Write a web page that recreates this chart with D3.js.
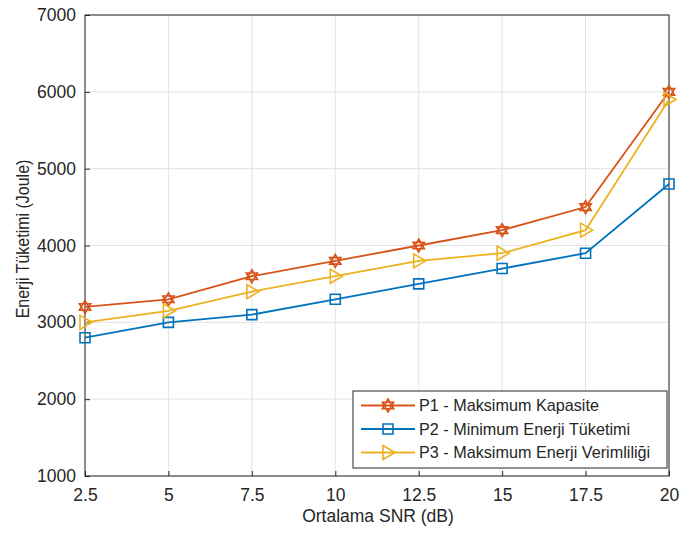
<!DOCTYPE html>
<html>
<head>
<meta charset="utf-8">
<script src="https://cdn.jsdelivr.net/npm/d3@7"></script>
<style>
  body { margin: 0; background: #fff; }
  svg text { font-family: "Liberation Sans", Arial, sans-serif; fill: #262626; }
</style>
</head>
<body>
<div id="chart"></div>
<script>
// SNR values (dB)
const snr = [2.5, 5, 7.5, 10, 12.5, 15, 17.5, 20];
const p1 = [3200, 3300, 3600, 3800, 4000, 4200, 4500, 6000];
const p2 = [2800, 3000, 3100, 3300, 3500, 3700, 3900, 4800];
const p3 = [3000, 3150, 3400, 3600, 3800, 3900, 4200, 5900];
const seriesNames = ['P1 - Maksimum Kapasite', 'P2 - Minimum Enerji  Tüketimi', 'P3 - Maksimum Enerji Verimliliği'];
const yTicks = [1000, 2000, 3000, 4000, 5000, 6000, 7000];

const W = 680, H = 533;
const margin = { top: 15, right: 11, bottom: 57, left: 85 };
const width = W - margin.left - margin.right;
const height = H - margin.top - margin.bottom;

const svg = d3.select('#chart').append('svg')
  .attr('width', W).attr('height', H);
const g = svg.append('g')
  .attr('transform', `translate(${margin.left},${margin.top})`);

const x = d3.scaleLinear().domain([2.5, 20]).range([0, width]);
const y = d3.scaleLinear().domain([1000, 7000]).range([height, 0]);

// Grid
g.append('g').selectAll('line').data(snr).enter().append('line')
  .attr('x1', d => x(d)).attr('x2', d => x(d))
  .attr('y1', 0).attr('y2', height)
  .attr('stroke', '#e3e3e3').attr('stroke-width', 1);
g.append('g').selectAll('line').data(yTicks).enter().append('line')
  .attr('x1', 0).attr('x2', width)
  .attr('y1', d => y(d)).attr('y2', d => y(d))
  .attr('stroke', '#e3e3e3').attr('stroke-width', 1);

// Axes (ticks inward, MATLAB box)
const xAxis = d3.axisBottom(x).tickValues(snr).tickSize(-5).tickPadding(13)
  .tickFormat(d => d);
const yAxis = d3.axisLeft(y).tickValues(yTicks).tickSize(-5).tickPadding(9)
  .tickFormat(d => d);

const gx = g.append('g').attr('transform', `translate(0,${height})`).call(xAxis);
const gy = g.append('g').call(yAxis);
[gx, gy].forEach(a => {
  a.select('.domain').remove();
  a.selectAll('.tick line').attr('stroke', '#262626');
  a.selectAll('.tick text').style('font-size', '17.5px').attr('fill', '#262626');
});
gx.selectAll('.tick text').attr('dy', '0.71em');

g.append('rect')
  .attr('x', 0).attr('y', 0).attr('width', width).attr('height', height)
  .attr('fill', 'none').attr('stroke', '#262626').attr('stroke-width', 1);

// Labels
svg.append('text')
  .attr('x', 378).attr('y', 522)
  .attr('text-anchor', 'middle').style('font-size', '17.5px')
  .text('Ortalama SNR (dB)');
svg.append('text')
  .attr('transform', `translate(29,239) rotate(-90) scale(1,1.12)`)
  .attr('text-anchor', 'middle').style('font-size', '16px')
  .text('Enerji Tüketimi (Joule)');

// Marker shapes
function hexagram(r) {
  const tri = a => d3.range(3).map(i => {
    const t = a + i * 2 * Math.PI / 3;
    return [r * Math.cos(t), r * Math.sin(t)];
  });
  const pA = tri(-Math.PI / 2), pB = tri(Math.PI / 2);
  return 'M' + pA.join('L') + 'Z M' + pB.join('L') + 'Z';
}
const markers = [
  () => hexagram(6.5),
  () => 'M-5,-5H5V5H-5Z',
  () => 'M-5,-7L7,0L-5,7Z'
];
const colors = ['#D95319', '#0072BD', '#EDB120'];
const data = [p1, p2, p3];

const line = d3.line().x((d, i) => x(snr[i])).y(d => y(d));

data.forEach((vals, k) => {
  g.append('path').datum(vals)
    .attr('d', line)
    .attr('fill', 'none').attr('stroke', colors[k]).attr('stroke-width', 1.8);
  g.selectAll('.m' + k).data(vals).enter().append('path')
    .attr('class', 'm' + k)
    .attr('transform', (d, i) => `translate(${x(snr[i])},${y(d)})`)
    .attr('d', markers[k]())
    .attr('fill', 'none').attr('stroke', colors[k]).attr('stroke-width', 1.6);
});

// Legend
const lg = svg.append('g').attr('transform', 'translate(353,391)');
lg.append('rect').attr('width', 314).attr('height', 77)
  .attr('fill', '#fff').attr('stroke', '#262626').attr('stroke-width', 1);
seriesNames.forEach((name, k) => {
  const yy = 14.5 + k * 23.5;
  lg.append('line').attr('x1', 8).attr('x2', 62).attr('y1', yy).attr('y2', yy)
    .attr('stroke', colors[k]).attr('stroke-width', 1.8);
  lg.append('path').attr('transform', `translate(35,${yy})`)
    .attr('d', markers[k]())
    .attr('fill', 'none').attr('stroke', colors[k]).attr('stroke-width', 1.6);
  lg.append('text').attr('x', 66).attr('y', yy).attr('dy', '0.36em')
    .style('font-size', '16.2px').text(name);
});
</script>
</body>
</html>
